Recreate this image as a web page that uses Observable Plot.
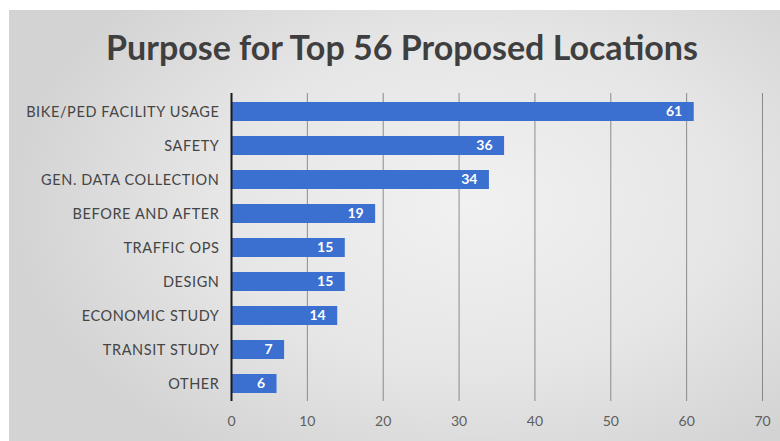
<!DOCTYPE html>
<html>
<head>
<meta charset="utf-8">
<script src="https://cdn.jsdelivr.net/npm/d3@7"></script>
<script src="https://cdn.jsdelivr.net/npm/@observablehq/plot@0.6"></script>
<style>
  html, body { margin: 0; padding: 0; background: #ffffff; }
  #frame { position: relative; width: 780px; height: 441px; overflow: hidden; background: #ffffff; }
  #panel {
    position: absolute; left: 9px; top: 10px; width: 771px; height: 431px;
    background: radial-gradient(ellipse 60% 70% at 60% 45%, #f1f1f1 0%, #e6e6e6 55%, #d3d3d3 100%);
  }
  #title {
    position: absolute; left: 0; top: 26px; width: 804px; text-align: center;
    font-family: Lato, "Open Sans", sans-serif; font-weight: 700; font-size: 34px;
    color: #3f3f3f;
  }
  #chart { position: absolute; left: 0; top: 0; }
  #chart g[aria-label="y-axis tick label"] text { letter-spacing: 0.6px; }
</style>
</head>
<body>
<div id="frame">
  <div id="panel"></div>
  <div id="title">Purpose for Top 56 Proposed Locations</div>
  <div id="chart"></div>
</div>
<script>
const categories = [
  "BIKE/PED FACILITY USAGE",
  "SAFETY",
  "GEN. DATA COLLECTION",
  "BEFORE AND AFTER",
  "TRAFFIC OPS",
  "DESIGN",
  "ECONOMIC STUDY",
  "TRANSIT STUDY",
  "OTHER"
];
const counts = [61, 36, 34, 19, 15, 15, 14, 7, 6];
const xTicks = [0, 10, 20, 30, 40, 50, 60, 70];

const data = categories.map((c, i) => ({category: c, count: counts[i]}));

const chart = Plot.plot({
  width: 780,
  height: 441,
  marginTop: 93,
  marginBottom: 40,
  marginLeft: 231,
  marginRight: 18,
  style: {background: "transparent", fontFamily: "Lato, 'Open Sans', sans-serif", overflow: "visible"},
  x: {domain: [0, 70], ticks: xTicks, label: null},
  y: {domain: categories, paddingInner: 0.45, paddingOuter: 0.25, label: null},
  marks: [
    Plot.gridX(xTicks.filter(t => t > 0), {stroke: "#7a7a7a", strokeOpacity: 0.85, strokeWidth: 1}),
    Plot.barX(data, {y: "category", x: "count", fill: "#3b6fd0"}),
    Plot.text(data, {
      y: "category", x: "count", text: d => String(d.count),
      textAnchor: "end", dx: -12, fill: "white", fontWeight: 700, fontSize: 14
    }),
    Plot.ruleX([0], {stroke: "#1a1a1a", strokeWidth: 2}),
    Plot.axisX({ticks: xTicks, tickSize: 0, tickPadding: 15, fontSize: 14, fill: "#5e5e5e", label: null}),
    Plot.axisY({tickSize: 0, tickPadding: 12, fontSize: 14.5, fill: "#454545", label: null})
  ]
});
document.getElementById("chart").appendChild(chart);
</script>
</body>
</html>
